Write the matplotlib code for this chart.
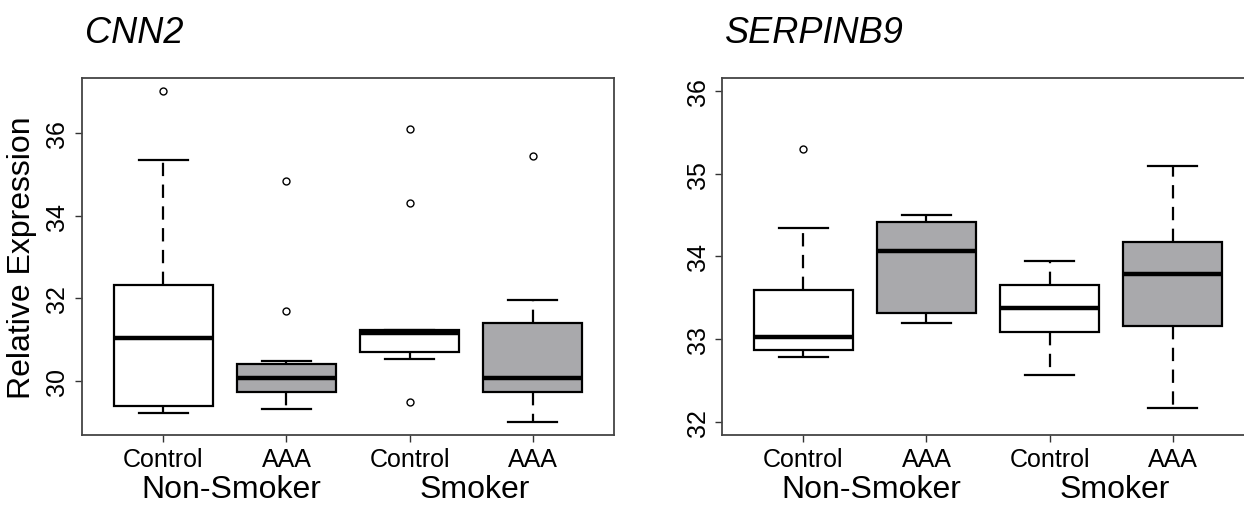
import matplotlib
matplotlib.use("Agg")
import matplotlib.pyplot as plt

plt.rcParams['font.family'] = ['Liberation Sans', 'DejaVu Sans']

# groups along the x axis
tick_labels = ['Control', 'AAA', 'Control', 'AAA']
group_labels = ['Non-Smoker', 'Smoker']
fills = ['white', '#a9a9ac', 'white', '#a9a9ac']

# CNN2: whisker low, Q1, median, Q3, whisker high, outliers
cnn2_whislo = [29.22, 29.31, 30.54, 29.00]
cnn2_q1 = [29.39, 29.74, 30.70, 29.73]
cnn2_med = [31.04, 30.08, 31.15, 30.06]
cnn2_q3 = [32.31, 30.42, 31.23, 31.41]
cnn2_whishi = [35.35, 30.47, 31.23, 31.96]
cnn2_fliers = [[37.01], [34.83, 31.69], [36.09, 34.31, 29.49], [35.45]]

# SERPINB9
serp_whislo = [32.78, 33.20, 32.57, 32.17]
serp_q1 = [32.87, 33.32, 33.09, 33.16]
serp_med = [33.02, 34.07, 33.38, 33.79]
serp_q3 = [33.59, 34.42, 33.66, 34.17]
serp_whishi = [34.34, 34.50, 33.94, 35.10]
serp_fliers = [[35.30], [], [], []]


def make_stats(lo, q1, med, q3, hi, fl):
    stats = []
    for i in range(len(med)):
        stats.append(dict(whislo=lo[i], q1=q1[i], med=med[i], q3=q3[i],
                          whishi=hi[i], fliers=fl[i]))
    return stats


def draw_panel(ax, stats, title, ylim, yticks, title_x):
    bp = ax.bxp(stats, positions=[1, 2, 3, 4], widths=0.8, capwidths=0.4,
                patch_artist=True, showfliers=True,
                boxprops=dict(linewidth=1.6, edgecolor='black'),
                medianprops=dict(linewidth=3.2, color='black', solid_capstyle='butt'),
                whiskerprops=dict(linewidth=1.6, color='black', linestyle=(0, (6.0, 3.8))),
                capprops=dict(linewidth=1.6, color='black'),
                flierprops=dict(marker='o', markersize=5, markerfacecolor='none',
                                markeredgecolor='black', markeredgewidth=1.0))
    for patch, c in zip(bp['boxes'], fills):
        patch.set_facecolor(c)
    ax.set_xlim(0.34, 4.66)
    ax.set_ylim(*ylim)
    ax.set_yticks(yticks)
    ax.set_yticklabels([str(t) for t in yticks], rotation=90, va='center')
    ax.set_xticks([1, 2, 3, 4])
    ax.set_xticklabels(tick_labels)
    ax.tick_params(axis='both', labelsize=18, length=5, width=1.0,
                   color='#333333', pad=4)
    for sp in ax.spines.values():
        sp.set_linewidth(1.3)
        sp.set_color('#444444')
    for gx, g in zip([1.55, 3.53], group_labels):
        ax.text(gx, -0.152, g, transform=ax.get_xaxis_transform(),
                ha='center', va='center', fontsize=23)
    ax.figure.text(title_x, 0.915, title, fontsize=26, style='italic',
                   ha='left', va='baseline')


fig = plt.figure(figsize=(12.44, 5.06), dpi=100)
W, H = 1244, 506
ax1 = fig.add_axes([82 / W, (H - 436) / H, 532 / W, 357 / H])
ax2 = fig.add_axes([722 / W, (H - 436) / H, 532 / W, 357 / H])

draw_panel(ax1, make_stats(cnn2_whislo, cnn2_q1, cnn2_med, cnn2_q3, cnn2_whishi, cnn2_fliers),
           'CNN2', (28.69, 37.33), [30, 32, 34, 36], 85 / W)
draw_panel(ax2, make_stats(serp_whislo, serp_q1, serp_med, serp_q3, serp_whishi, serp_fliers),
           'SERPINB9', (31.84, 36.16), [32, 33, 34, 35, 36], 725 / W)

ax1.set_ylabel('Relative Expression', fontsize=23, labelpad=6)

fig.savefig('out.png', dpi=100)
